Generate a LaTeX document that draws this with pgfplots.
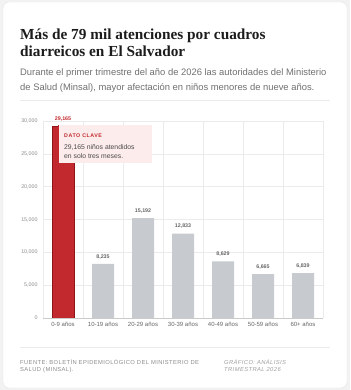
\documentclass[border=0pt]{standalone}
\usepackage{fontspec}
\setmainfont{Liberation Sans}
\newfontfamily\titlefont{Liberation Serif}
\newfontfamily\capsfont[LetterSpace=10]{Liberation Sans}
\newfontfamily\footfont[LetterSpace=7]{Liberation Sans}
\usepackage{pgfplots}
\pgfplotsset{compat=1.18}
\definecolor{bgout}{HTML}{F2F2F2}
\definecolor{cardline}{HTML}{E4E4E4}
\definecolor{titlecol}{HTML}{1C1C1C}
\definecolor{subcol}{HTML}{707070}
\definecolor{tickcol}{HTML}{8A8A8A}
\definecolor{barred}{HTML}{C2292E}
\definecolor{bardark}{HTML}{8E1518}
\definecolor{bargray}{HTML}{C7CBD0}
\definecolor{labgray}{HTML}{666666}
\definecolor{gridcol}{HTML}{EBEBEB}
\definecolor{boxpink}{HTML}{FDECEC}
\definecolor{foot}{HTML}{8C8C8C}
\definecolor{footi}{HTML}{A0A0A0}
\begin{document}
\begin{tikzpicture}
\useasboundingbox (0pt,0pt) rectangle (350pt,390pt);
\fill[bgout] (0pt,0pt) rectangle (350pt,390pt);
\filldraw[fill=white, draw=cardline, rounded corners=6pt] (3pt,2pt) rectangle (347pt,388pt);
\node[anchor=base west, inner sep=0, font=\titlefont\bfseries\fontsize{15.3}{19}\selectfont, text=titlecol] at (20pt,350pt) {Más de 79 mil atenciones por cuadros};
\node[anchor=base west, inner sep=0, font=\titlefont\bfseries\fontsize{15.3}{19}\selectfont, text=titlecol] at (20pt,333pt) {diarreicos en El Salvador};
\node[anchor=base west, inner sep=0, font=\fontsize{9.4}{10}\selectfont, text=subcol] at (20pt,314.5pt) {Durante el primer trimestre del año de 2026 las autoridades del Ministerio};
\node[anchor=base west, inner sep=0, font=\fontsize{9.4}{10}\selectfont, text=subcol] at (20pt,299.5pt) {de Salud (Minsal), mayor afectación en niños menores de nueve años.};
\draw[gridcol, line width=0.6pt] (20pt,290pt) -- (330pt,290pt);
\begin{axis}[at={(43pt,72pt)}, anchor=south west, scale only axis,
  width=280pt, height=197pt,
  xmin=-0.5, xmax=6.5, ymin=0, ymax=30000,
  axis line style={draw=none}, major tick length=0pt, minor tick length=0pt,
  xtick={0,...,6},
  xticklabels={0-9 años,10-19 años,20-29 años,30-39 años,40-49 años,50-59 años,60+ años},
  minor xtick={-0.5,0.5,...,6.5},
  xminorgrids=true, ymajorgrids=true,
  grid style={draw=gridcol, line width=0.5pt},
  minor grid style={draw=gridcol, line width=0.5pt},
  ytick={0,5000,...,30000},
  scaled y ticks=false,
  /pgf/number format/.cd, 1000 sep={,}, assume math mode=true, /pgfplots/.cd,
  yticklabel style={font=\fontsize{5.3}{6}\selectfont, text=tickcol, xshift=-2pt},
  xticklabel style={font=\fontsize{6}{7}\selectfont, text=labgray, yshift=-1pt},
  clip=false,
  nodes near coords,
  nodes near coords style={font=\bfseries\fontsize{5.3}{6}\selectfont, text=labgray, yshift=1.5pt},
]
\addplot[ybar, bar width=22pt, bar shift=0pt, fill=bargray, draw=none] coordinates {(1,8235) (2,15192) (3,12833) (4,8629) (5,6665) (6,6839)};
\addplot[ybar, bar width=22pt, bar shift=0pt, fill=barred, draw=bardark, line width=0.6pt, nodes near coords style={text=barred}] coordinates {(0,29165)};
\draw[draw=gridcol!70!gray, line width=0.6pt] (axis cs:-0.5,0) -- (axis cs:6.5,0);
\fill[boxpink] (axis cs:-0.125,23600) rectangle (axis cs:2.225,29400);
\draw[barred, line width=1pt] (axis cs:-0.125,23600) -- (axis cs:-0.125,29400);
\node[anchor=base west, inner sep=0, font=\capsfont\bfseries\fontsize{5.3}{6}\selectfont, text=barred] at (axis cs:0.025,27450) {DATO CLAVE};
\node[anchor=base west, inner sep=0, font=\fontsize{6.8}{8}\selectfont, text=titlecol!80] at (axis cs:0.025,25680) {29,165 niños atendidos};
\node[anchor=base west, inner sep=0, font=\fontsize{6.8}{8}\selectfont, text=titlecol!80] at (axis cs:0.025,24280) {en solo tres meses.};
\end{axis}
\draw[gridcol, line width=0.6pt] (20pt,43pt) -- (330pt,43pt);
\node[anchor=base west, inner sep=0, font=\footfont\fontsize{5.8}{6}\selectfont, text=foot] at (20pt,25.7pt) {FUENTE: BOLETÍN EPIDEMIOLÓGICO DEL MINISTERIO DE};
\node[anchor=base west, inner sep=0, font=\footfont\fontsize{5.8}{6}\selectfont, text=foot] at (20pt,18.3pt) {SALUD (MINSAL).};
\node[anchor=base west, inner sep=0, font=\footfont\itshape\fontsize{5.8}{6}\selectfont, text=footi] at (224pt,25.7pt) {GRÁFICO: ANÁLISIS};
\node[anchor=base west, inner sep=0, font=\footfont\itshape\fontsize{5.8}{6}\selectfont, text=footi] at (224pt,18.3pt) {TRIMESTRAL 2026};
\end{tikzpicture}
\end{document}
